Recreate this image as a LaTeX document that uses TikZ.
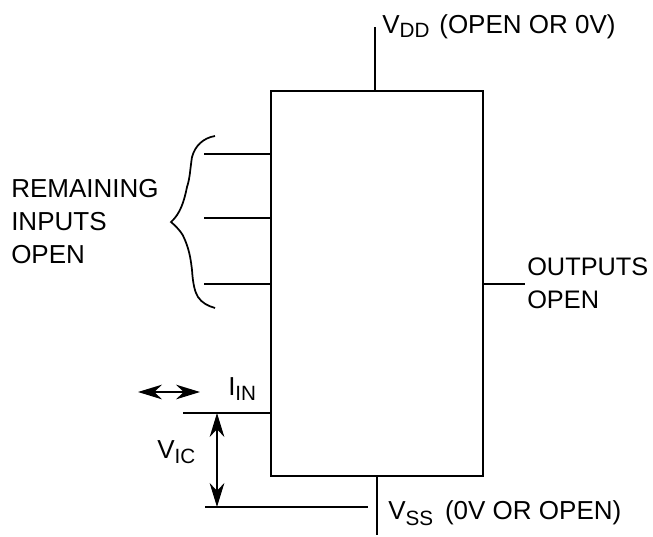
\documentclass[tikz,border=0pt]{standalone}
\usepackage{fontspec}
\setmainfont{Liberation Sans}
\usetikzlibrary{arrows.meta}
\newcommand{\subtxt}[2]{\raisebox{#1}{\fontsize{15.5pt}{18pt}\selectfont #2}}
\begin{document}
\begin{tikzpicture}[x=0.75pt,y=-0.75pt,
  wire/.style={line width=1.5pt,black},
  lbl/.style={anchor=base west,inner sep=0pt,font=\fontsize{19.5pt}{24pt}\selectfont},
  lblout/.style={lbl,font=\fontsize{19pt}{24pt}\selectfont},
  dbl/.style={line width=1.4pt,{Stealth[length=18pt,width=11pt]}-{Stealth[length=18pt,width=11pt]}}]
\useasboundingbox (0,0) rectangle (653,536);
\node[draw,line width=1.6pt,outer sep=0pt,minimum width=159pt,minimum height=288.75pt,inner sep=0pt,anchor=north west] (box) at (271,91) {};
\coordinate (vddtop) at (375,27);
\coordinate (vddbot) at (375,91);
\coordinate (vssbot) at (377,535);
\coordinate (vsstop) at (377,476);
\draw[wire] (vddtop) -- (vddbot);
\draw[wire] (vsstop) -- (vssbot);
\coordinate (i1) at (204,154); \coordinate (i1b) at (271,154);
\coordinate (i2) at (204,218); \coordinate (i2b) at (271,218);
\coordinate (i3) at (204,284); \coordinate (i3b) at (271,284);
\draw[wire] (i1) -- (i1b);
\draw[wire] (i2) -- (i2b);
\draw[wire] (i3) -- (i3b);
\coordinate (o1) at (483,284); \coordinate (o2) at (525,284);
\draw[wire] (o1) -- (o2);
\coordinate (inl) at (183,413); \coordinate (inr) at (271,413);
\coordinate (ssl) at (205,507); \coordinate (ssr) at (368,507);
\draw[wire] (inl) -- (inr);
\draw[wire] (ssl) -- (ssr);
\coordinate (vt) at (217,413); \coordinate (vb) at (217,507);
\draw[dbl] (vt) -- (vb);
\coordinate (hl) at (138,392); \coordinate (hr) at (200,392);
\draw[dbl] (hl) -- (hr);
\draw[line width=1.3pt] (215,136) .. controls (203,138) and (195,146) .. (192,157)
  .. controls (190,170) and (190,178) .. (187,187)
  .. controls (184,202) and (180,214) .. (171,222)
  .. controls (178,228) and (183,234) .. (185,240)
  .. controls (190,252) and (191,262) .. (192,270)
  .. controls (193,285) and (195,292) .. (198,297)
  .. controls (202,303) and (208,306) .. (215,308);
\node[lbl] (rem) at (11,197) {REMAINING};
\node[lbl] (inp) at (11,230) {INPUTS};
\node[lbl] (opn) at (11,263) {OPEN};
\node[lblout] (out) at (527,275) {OUTPUTS};
\node[lblout] (oop) at (527,308) {OPEN};
\node[lbl] (vdd) at (382,33) {V\subtxt{-3.5pt}{DD}\hspace{2pt} (OPEN OR 0V)};
\node[lbl] (vss) at (388,519) {V\subtxt{-5pt}{SS}\hspace{3.5pt} (0V OR OPEN)};
\node[lbl] (vic) at (157,458) {V\subtxt{-4pt}{IC}};
\node[lbl] (iin) at (228,395) {I\subtxt{-4pt}{IN}};
\end{tikzpicture}
\end{document}
